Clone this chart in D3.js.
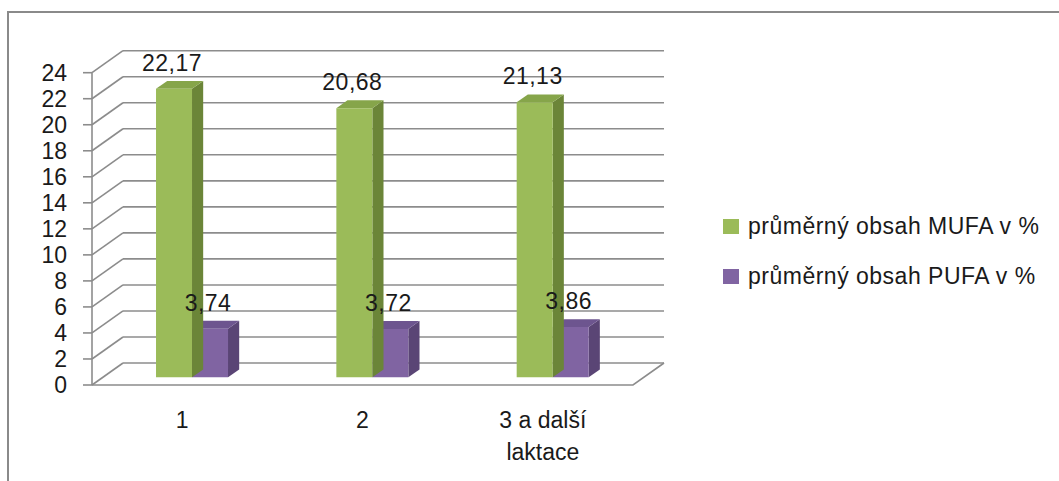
<!DOCTYPE html>
<html><head><meta charset="utf-8">
<script src="https://cdn.jsdelivr.net/npm/d3@7"></script>
<style>body{margin:0;background:#fff}svg{display:block}</style>
</head><body>
<svg id="c" width="1059" height="481"></svg>
<script>
const categories = [["1"], ["2"], ["3 a další", "laktace"]];
const seriesNames = ["průměrný obsah MUFA v %", "průměrný obsah PUFA v %"];
const mufa = [22.17, 20.68, 21.13];
const pufa = [3.74, 3.72, 3.86];
const yTicks = [0,2,4,6,8,10,12,14,16,18,20,22,24];
const valueLabels = [["22,17","20,68","21,13"],["3,74","3,72","3,86"]];

const svg = d3.select("#c");
const font = "'Liberation Sans', Arial, sans-serif";
const FS = 23;
const DX = 31, DY = 22;          // depth offset of back wall
const f0 = 0.35, fd = 0.36;      // bar depth position
const colors = [
  {front:"#9BBB59", side:"#6B8538", top:"#86A54A"},
  {front:"#8064A2", side:"#5A4575", top:"#6D558F"}
];
const gridC = "#8c8c8c";

// chart border
svg.append("rect").attr("x",8).attr("y",12).attr("width",1070).attr("height",500)
  .attr("fill","none").attr("stroke","#8a8a8a").attr("stroke-width",2);

const y = d3.scaleLinear().domain([0,24]).range([385,72.7]);
const x0 = d3.scaleBand().domain(d3.range(categories.length)).range([92,633]);
const bw = x0.bandwidth();
const x1 = d3.scaleBand().domain([0,1]).range([bw/2-37, bw/2+35]);

const P = (px, py, f) => [px + f*DX, py - f*DY];
const g = svg.append("g");

// back wall gridlines
g.selectAll(".grid").data(yTicks).join("line")
  .attr("x1",92+DX).attr("x2",633+DX)
  .attr("y1",d=>y(d)-DY).attr("y2",d=>y(d)-DY)
  .attr("stroke",gridC).attr("stroke-width",1.6);
// side wall diagonals
g.selectAll(".diag").data(yTicks).join("line")
  .attr("x1",92).attr("x2",92+DX)
  .attr("y1",d=>y(d)).attr("y2",d=>y(d)-DY)
  .attr("stroke",gridC).attr("stroke-width",1.6);
// floor
g.append("path").attr("d",`M92,${y(0)}L633,${y(0)}L${633+DX},${y(0)-DY}`)
  .attr("fill","none").attr("stroke",gridC).attr("stroke-width",1.6);

// bars
const allSeries = [mufa, pufa];
const bars = [];
allSeries.forEach((vals,s)=>vals.forEach((v,i)=>bars.push({s,i,v})));
bars.sort((a,b)=> (b.i - a.i) || (b.s - a.s));
bars.forEach(b=>{
  const xl = x0(b.i) + x1(b.s), xr = xl + x1.bandwidth();
  const yt = y(b.v), yb = y(0);
  const c = colors[b.s];
  const A = P(xl,yt,f0), B = P(xr,yt,f0), Bb = P(xr,yb,f0);
  const A2 = P(xl,yt,f0+fd), B2 = P(xr,yt,f0+fd), Bb2 = P(xr,yb,f0+fd);
  const line = d3.line();
  g.append("path").attr("d", line([B,B2,Bb2,Bb])+"Z").attr("fill",c.side);
  g.append("path").attr("d", line([A,A2,B2,B])+"Z").attr("fill",c.top);
  const Ab = P(xl,yb,f0);
  g.append("path").attr("d", line([A,B,Bb,Ab])+"Z").attr("fill",c.front);
});

// front axis
g.append("line").attr("x1",92).attr("x2",92).attr("y1",y(24)).attr("y2",y(0))
  .attr("stroke",gridC).attr("stroke-width",1.6);
g.selectAll(".tick").data(yTicks).join("line")
  .attr("x1",83).attr("x2",92).attr("y1",d=>y(d)).attr("y2",d=>y(d))
  .attr("stroke",gridC).attr("stroke-width",1.6);
g.selectAll(".tl").data(yTicks).join("text")
  .attr("x",67).attr("y",d=>y(d)).attr("dy","0.36em")
  .attr("text-anchor","end").attr("font-family",font).attr("font-size",FS)
  .attr("fill","#1a1a1a").text(d=>d);

// value labels
allSeries.forEach((vals,s)=>vals.forEach((v,i)=>{
  const xc = x0(i) + x1(s) + x1.bandwidth()/2;
  const p = P(xc, y(v), f0);
  g.append("text").attr("x",p[0]-2).attr("y",p[1]-18).attr("text-anchor","middle")
    .attr("font-family",font).attr("font-size",FS).attr("fill","#1a1a1a")
    .attr("letter-spacing","0.5px")
    .text(valueLabels[s][i]);
}));

// category labels
categories.forEach((lines,i)=>{
  const t = g.append("text").attr("text-anchor","middle")
    .attr("font-family",font).attr("font-size",FS).attr("fill","#1a1a1a");
  lines.forEach((ln,k)=>t.append("tspan").attr("x",x0(i)+bw/2).attr("y",428+k*32).text(ln));
});

// legend
seriesNames.forEach((n,s)=>{
  g.append("rect").attr("x",723).attr("y",219+s*50).attr("width",16).attr("height",15)
    .attr("fill",colors[s].front);
  g.append("text").attr("x",748).attr("y",234+s*50).attr("font-family",font)
    .attr("font-size",FS).attr("letter-spacing","0.5px").attr("fill","#1a1a1a").text(n);
});
</script>
</body></html>
